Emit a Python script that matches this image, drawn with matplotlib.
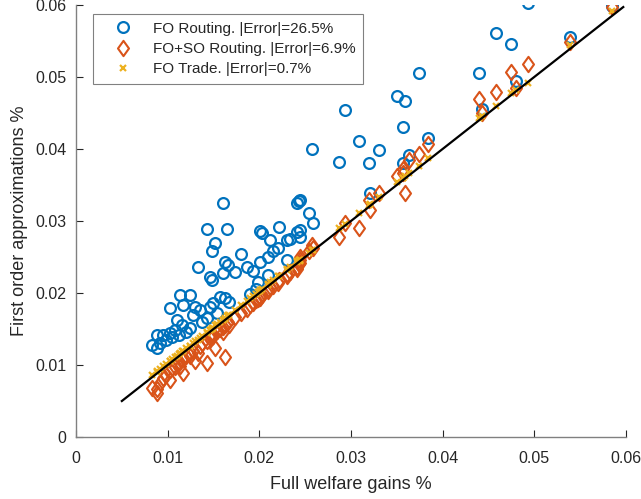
import matplotlib
matplotlib.use("Agg")
import matplotlib.pyplot as plt
from matplotlib.path import Path

plt.rcParams['font.family'] = ['Liberation Sans', 'DejaVu Sans']

# full welfare gains (shared x for all three approximations)
full_gains = [
    0.0083, 0.0088, 0.0088, 0.0092, 0.0095, 0.0098, 0.0103, 0.0103, 0.0105, 0.0108,
    0.0110, 0.0112, 0.0113, 0.0116, 0.0117, 0.0120, 0.0124, 0.0124, 0.0128, 0.0130,
    0.0133, 0.0135, 0.0137, 0.0143, 0.0143, 0.0146, 0.0146, 0.0148, 0.0148, 0.0149,
    0.0152, 0.0154, 0.0157, 0.0160, 0.0160, 0.0162, 0.0162, 0.0165, 0.0166, 0.0167,
    0.0173, 0.0180, 0.0186, 0.0190, 0.0193, 0.0196, 0.0198, 0.0201, 0.0201, 0.0203,
    0.0209, 0.0209, 0.0212, 0.0215, 0.0220, 0.0221, 0.0230, 0.0230, 0.0233, 0.0241,
    0.0241, 0.0243,
    0.0244, 0.0244, 0.0244, 0.0254, 0.0258, 0.0257, 0.0287, 0.0293, 0.0309, 0.0321,
    0.0320, 0.0330, 0.0350, 0.0357, 0.0357, 0.0359, 0.0363, 0.0374, 0.0384, 0.0440,
    0.0443, 0.0458, 0.0474, 0.0480, 0.0493, 0.0539, 0.0585,
]
fo_routing = [
    0.0128, 0.0124, 0.0142, 0.0131, 0.0142, 0.0135, 0.0145, 0.0179, 0.0139, 0.0149,
    0.0162, 0.0141, 0.0197, 0.0156, 0.0183, 0.0146, 0.0151, 0.0197, 0.0169, 0.0180,
    0.0236, 0.0176, 0.0160, 0.0165, 0.0289, 0.0181, 0.0222, 0.0218, 0.0258, 0.0186,
    0.0269, 0.0172, 0.0194, 0.0228, 0.0325, 0.0193, 0.0243, 0.0289, 0.0239, 0.0188,
    0.0229, 0.0254, 0.0236, 0.0199, 0.0231, 0.0205, 0.0215, 0.0243, 0.0286, 0.0283,
    0.0225, 0.0250, 0.0274, 0.0258, 0.0263, 0.0292, 0.0246, 0.0274, 0.0275, 0.0285,
    0.0325, 0.0328,
    0.0329, 0.0288, 0.0278, 0.0311, 0.0297, 0.0400, 0.0382, 0.0454, 0.0411, 0.0339,
    0.0381, 0.0399, 0.0474, 0.0431, 0.0381, 0.0467, 0.0392, 0.0506, 0.0415, 0.0506,
    0.0456, 0.0561, 0.0546, 0.0494, 0.0603, 0.0556, 0.0598,
]
foso_routing = [
    0.0068, 0.0061, 0.0066, 0.0075, 0.0082, 0.0086, 0.0079, 0.0093, 0.0096, 0.0097,
    0.0101, 0.0104, 0.0098, 0.0108, 0.0089, 0.0112, 0.0113, 0.0118, 0.0120, 0.0105,
    0.0117, 0.0127, 0.0130, 0.0103, 0.0134, 0.0137, 0.0141, 0.0139, 0.0143, 0.0140,
    0.0124, 0.0147, 0.0150, 0.0153, 0.0146, 0.0111, 0.0155, 0.0158, 0.0160, 0.0156,
    0.0166, 0.0172, 0.0178, 0.0184, 0.0186, 0.0190, 0.0191, 0.0195, 0.0193, 0.0197,
    0.0203, 0.0206, 0.0208, 0.0210, 0.0214, 0.0218, 0.0224, 0.0227, 0.0229, 0.0236,
    0.0233, 0.0240,
    0.0250, 0.0246, 0.0242, 0.0258, 0.0262, 0.0267, 0.0278, 0.0297, 0.0290, 0.0315,
    0.0329, 0.0339, 0.0362, 0.0367, 0.0372, 0.0339, 0.0385, 0.0393, 0.0407, 0.0469,
    0.0450, 0.0479, 0.0507, 0.0485, 0.0518, 0.0549, 0.0597,
]
fo_trade = [
    0.0086, 0.0090, 0.0091, 0.0095, 0.0098, 0.0101, 0.0106, 0.0105, 0.0108, 0.0111,
    0.0113, 0.0115, 0.0116, 0.0119, 0.0119, 0.0123, 0.0127, 0.0126, 0.0131, 0.0133,
    0.0135, 0.0138, 0.0140, 0.0146, 0.0145, 0.0149, 0.0148, 0.0151, 0.0150, 0.0152,
    0.0155, 0.0157, 0.0160, 0.0163, 0.0162, 0.0164, 0.0165, 0.0168, 0.0169, 0.0170,
    0.0176, 0.0183, 0.0189, 0.0193, 0.0196, 0.0199, 0.0201, 0.0204, 0.0203, 0.0206,
    0.0212, 0.0211, 0.0215, 0.0218, 0.0223, 0.0224, 0.0233, 0.0232, 0.0236, 0.0244,
    0.0243, 0.0246,
    0.0246, 0.0245, 0.0246, 0.0256, 0.0260, 0.0260, 0.0290, 0.0296, 0.0311, 0.0323,
    0.0322, 0.0333, 0.0354, 0.0360, 0.0359, 0.0362, 0.0366, 0.0377, 0.0388, 0.0443,
    0.0446, 0.0460, 0.0478, 0.0482, 0.0492, 0.0545, 0.0592,
]
line_ends = [0.005, 0.0597]
labels = ['FO Routing. |Error|=26.5%', 'FO+SO Routing. |Error|=6.9%', 'FO Trade. |Error|=0.7%']
ticks = [0, 0.01, 0.02, 0.03, 0.04, 0.05, 0.06]
tick_labels = ['0', '0.01', '0.02', '0.03', '0.04', '0.05', '0.06']

BLUE = '#0072BD'
ORANGE = '#D95319'
YELLOW = '#EDB120'
AXC = '#262626'

# matlab-style diamond, a bit wider than mpl's thin 'd'
diamond = Path([(0, 1), (0.72, 0), (0, -1), (-0.72, 0), (0, 1)],
               [Path.MOVETO, Path.LINETO, Path.LINETO, Path.LINETO, Path.CLOSEPOLY])

fig = plt.figure(figsize=(6.41, 4.99), dpi=100)
ax = fig.add_axes([0.1186, 0.1242, 0.858, 0.866])

ax.plot(full_gains, fo_routing, 'o', mfc='none', mec=BLUE, ms=7.8, mew=1.6, label=labels[0])
ax.plot(full_gains, foso_routing, marker=diamond, ls='none', mfc='none', mec=ORANGE, ms=11, mew=1.5, label=labels[1])
ax.plot(full_gains, fo_trade, 'x', color=YELLOW, ms=5, mew=1.6, label=labels[2])
ax.plot(line_ends, line_ends, '-', color='black', lw=1.6)

ax.set_xlim(0, 0.06)
ax.set_ylim(0, 0.06)
ax.set_xticks(ticks)
ax.set_xticklabels(tick_labels)
ax.set_yticks(ticks)
ax.set_yticklabels(tick_labels)
ax.tick_params(direction='in', length=5, width=0.8, colors=AXC, labelsize=11.5)
ax.tick_params(axis='x', pad=10)
ax.tick_params(axis='y', pad=7)
ax.spines['top'].set_visible(False)
ax.spines['right'].set_visible(False)
for s in ['left', 'bottom']:
    ax.spines[s].set_color('#808080')
    ax.spines[s].set_linewidth(1.0)

ax.set_xlabel('Full welfare gains %', fontsize=13, color=AXC, labelpad=7)
ax.set_ylabel('First order approximations %', fontsize=13, color=AXC, labelpad=5)

leg = ax.legend(loc='upper left', bbox_to_anchor=(0.031, 0.979), fancybox=False,
                edgecolor='#808080', fontsize=11, borderpad=0.5, labelspacing=0.42,
                handlelength=2.9, handletextpad=0.5, borderaxespad=0, framealpha=1)
leg.get_frame().set_linewidth(0.8)
for t in leg.get_texts():
    t.set_color(AXC)

fig.savefig('out.png', dpi=100)
